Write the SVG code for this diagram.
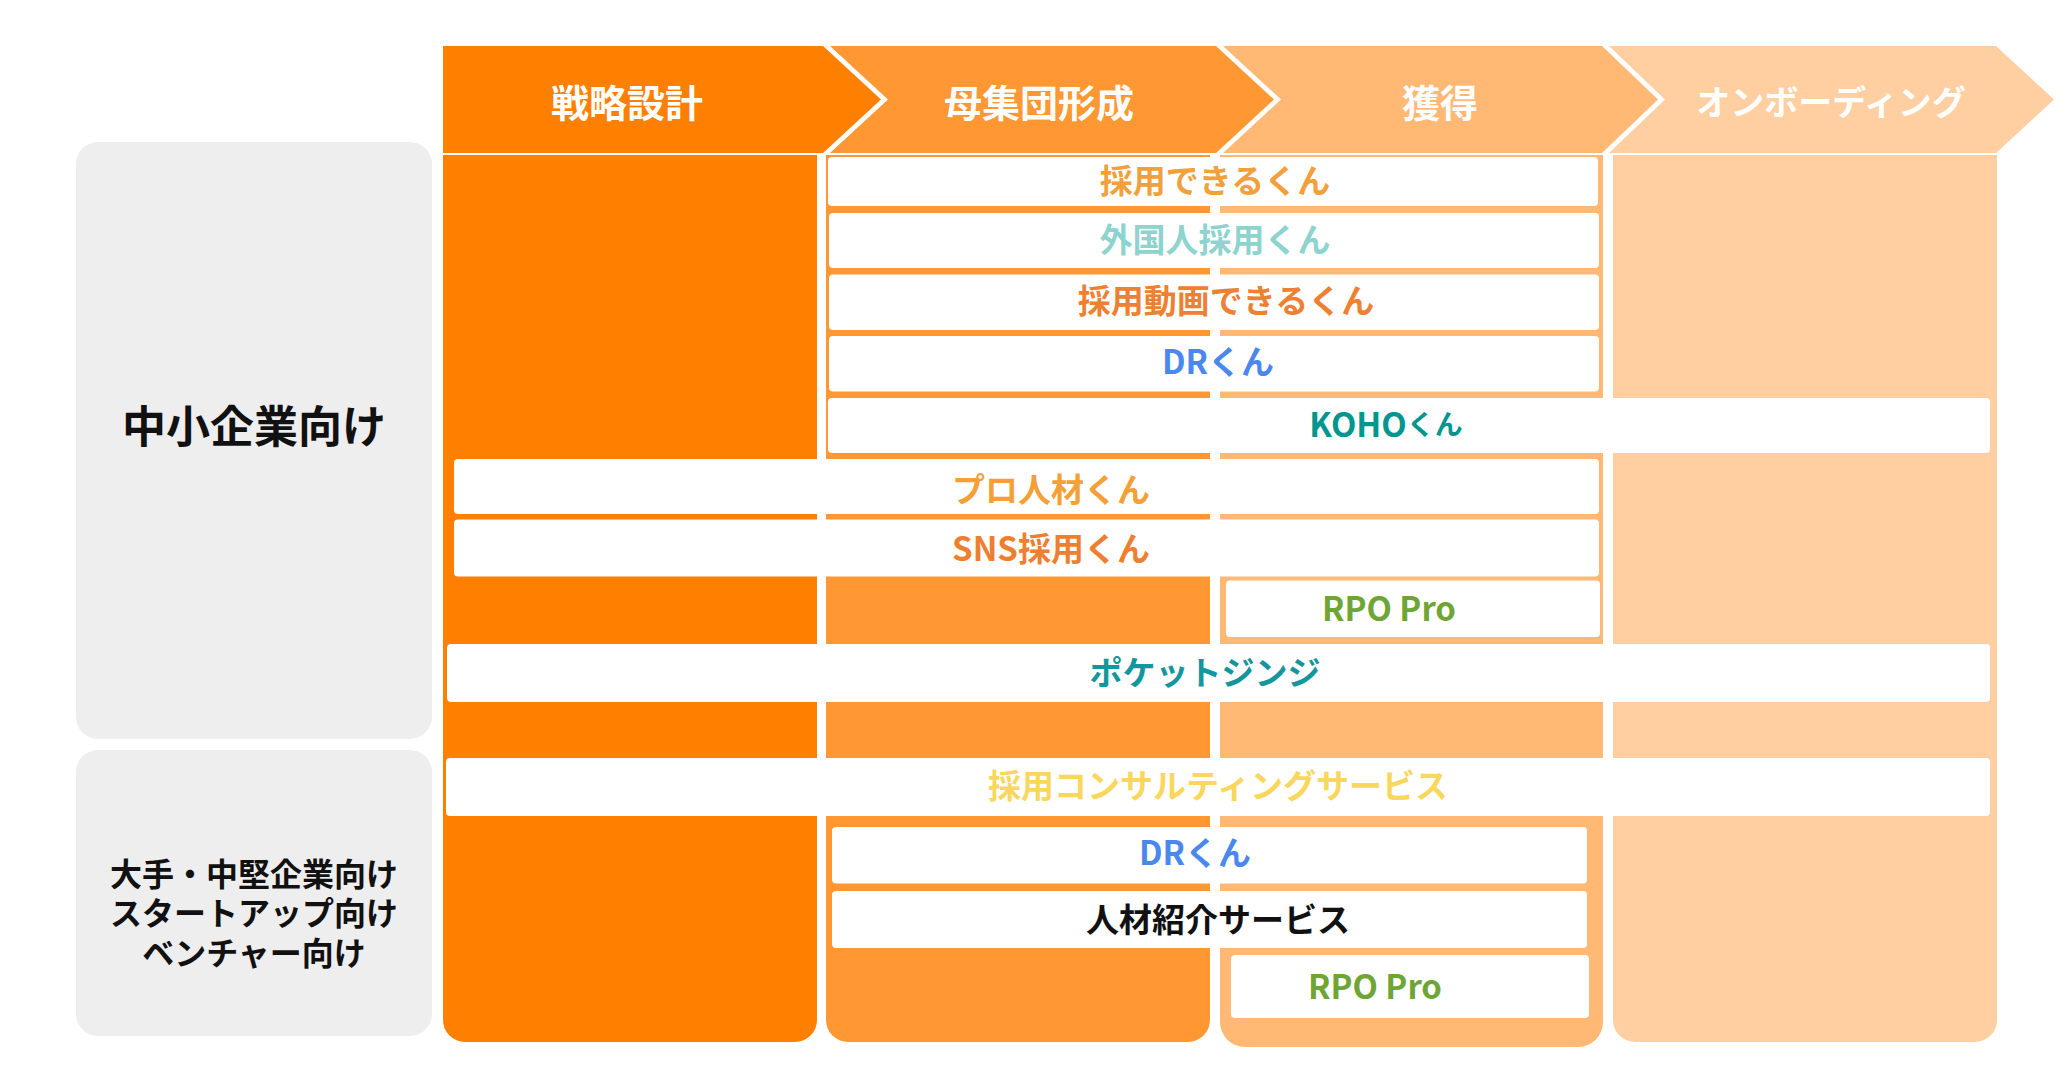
<svg xmlns="http://www.w3.org/2000/svg" width="2067" height="1074" viewBox="0 0 2067 1074">
<style>
  text { font-family: "Noto Sans CJK JP", "Noto Sans", sans-serif; font-weight: 700; text-anchor: middle; dominant-baseline: central; }
  .hd { fill: #ffffff; font-size: 38px; }
  .hd4 { fill: #ffffff; font-size: 34px; }
  .lbl { fill: #111111; }
  .bar { fill: #ffffff; }
  .bt { font-size: 33px; }
  .seg { fill: #eeeeee; }
</style>
<rect width="2067" height="1074" fill="#ffffff"/>

<g id="segments">
  <g id="seg-sme">
    <rect class="seg" x="76" y="142" width="356" height="597" rx="22"/>
    <text class="lbl" x="254" y="424" font-size="44">中小企業向け</text>
  </g>
  <g id="seg-large">
    <rect class="seg" x="76" y="750" width="356" height="286" rx="22"/>
    <text class="lbl" x="254" y="872" font-size="32">大手・中堅企業向け</text>
    <text class="lbl" x="254" y="911" font-size="32">スタートアップ向け</text>
    <text class="lbl" x="254" y="951" font-size="32">ベンチャー向け</text>
  </g>
</g>

<g id="columns">
  <path id="col-strategy" d="M443,155 H817 V1020 A22,22 0 0 1 795,1042 H465 A22,22 0 0 1 443,1020 Z" fill="#ff7f00"/>
  <path id="col-population" d="M826,155 H1210 V1020 A22,22 0 0 1 1188,1042 H848 A22,22 0 0 1 826,1020 Z" fill="#ff9732"/>
  <path id="col-acquisition" d="M1220,155 H1603 V1022 A25,25 0 0 1 1578,1047 H1245 A25,25 0 0 1 1220,1022 Z" fill="#ffb974"/>
  <path id="col-onboarding" d="M1613,155 H1997 V1020 A22,22 0 0 1 1975,1042 H1635 A22,22 0 0 1 1613,1020 Z" fill="#ffcfa2"/>
</g>

<g id="header">
  <g id="phase-strategy">
    <polygon points="443,46 823,46 881,99.5 823,153 443,153" fill="#ff7f00"/>
    <text class="hd" x="627" y="100">戦略設計</text>
  </g>
  <g id="phase-population">
    <polygon points="830,46 1216,46 1274,99.5 1216,153 830,153 888,99.5" fill="#ff9732"/>
    <text class="hd" x="1039" y="100">母集団形成</text>
  </g>
  <g id="phase-acquisition">
    <polygon points="1223,46 1602,46 1658,99.5 1602,153 1223,153 1281,99.5" fill="#ffb974"/>
    <text class="hd" x="1440" y="100">獲得</text>
  </g>
  <g id="phase-onboarding">
    <polygon points="1609,46 1996,46 2054,99.5 1996,153 1609,153 1665,99.5" fill="#ffcfa2"/>
    <text class="hd4" x="1831" y="100">オンボーディング</text>
  </g>
</g>

<g id="connectors"></g>

<g id="services">
  <g id="svc-saiyo-dekiru">
    <rect class="bar" x="828" y="157" width="770" height="49" rx="4"/>
    <text class="bt" x="1215" y="179" fill="#f1a03c">採用できるくん</text>
  </g>
  <g id="svc-gaikokujin">
    <rect class="bar" x="829" y="213" width="770" height="55" rx="4"/>
    <text class="bt" x="1215" y="238" fill="#8dd4cf">外国人採用くん</text>
  </g>
  <g id="svc-doga">
    <rect class="bar" x="829" y="274.5" width="770" height="55.5" rx="4"/>
    <text class="bt" x="1226" y="299" fill="#ee8032">採用動画できるくん</text>
  </g>
  <g id="svc-dr-1">
    <rect class="bar" x="829" y="336" width="770" height="55.5" rx="4"/>
    <text class="bt" x="1218" y="360" fill="#4a87ee">DRくん</text>
  </g>
  <g id="svc-koho">
    <rect class="bar" x="828" y="398" width="1162" height="55" rx="4"/>
    <text x="1386" y="423" fill="#00968f" font-size="33">KOHO<tspan font-size="28">くん</tspan></text>
  </g>
  <g id="svc-pro-jinzai">
    <rect class="bar" x="454" y="459" width="1145" height="55" rx="4"/>
    <text class="bt" x="1051" y="488" fill="#f4a036">プロ人材くん</text>
  </g>
  <g id="svc-sns">
    <rect class="bar" x="454" y="519.5" width="1145" height="57" rx="4"/>
    <text class="bt" x="1051" y="547" fill="#ef7f30">SNS採用くん</text>
  </g>
  <g id="svc-rpo-1">
    <rect class="bar" x="1226" y="580.5" width="374" height="56.5" rx="4"/>
    <text class="bt" x="1389" y="607" fill="#6fa535">RPO Pro</text>
  </g>
  <g id="svc-pocket">
    <rect class="bar" x="447" y="644" width="1543" height="58" rx="4"/>
    <text class="bt" x="1205" y="671" fill="#14969e">ポケットジンジ</text>
  </g>
  <g id="svc-consulting">
    <rect class="bar" x="446" y="758" width="1544" height="58" rx="4"/>
    <text class="bt" x="1218" y="784" fill="#f9d75c">採用コンサルティングサービス</text>
  </g>
  <g id="svc-dr-2">
    <rect class="bar" x="832" y="827" width="755" height="56.5" rx="4"/>
    <text class="bt" x="1195" y="851" fill="#4a87ee">DRくん</text>
  </g>
  <g id="svc-jinzai-shokai">
    <rect class="bar" x="832" y="891" width="755" height="57" rx="4"/>
    <text class="bt" x="1218" y="918" fill="#111111">人材紹介サービス</text>
  </g>
  <g id="svc-rpo-2">
    <rect class="bar" x="1231" y="955" width="358" height="63" rx="4"/>
    <text class="bt" x="1375" y="985" fill="#6fa535">RPO Pro</text>
  </g>
</g>
</svg>
